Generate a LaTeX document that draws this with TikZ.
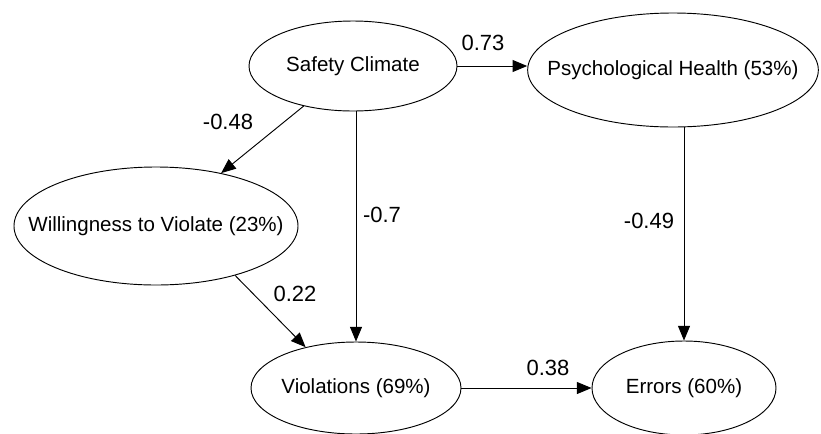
\documentclass[tikz,border=0pt]{standalone}
\usepackage{fontspec}
\setmainfont{Liberation Sans}
\usetikzlibrary{shapes.geometric,arrows.meta}
\begin{document}
\begin{tikzpicture}[x=0.75pt,y=-0.75pt,
    var/.style={ellipse,draw,line width=0.7pt,inner sep=0pt},
    path/.style={line width=0.7pt,-{Triangle[length=11pt,width=9pt]}},
    coef/.style={font=\fontsize{16.5}{18}\selectfont}]
    \useasboundingbox (0,0) rectangle (821,433);
    \begin{scope}[every label/.style={font=\fontsize{15.4}{17}\selectfont}]
        \node[var,minimum width=156pt,minimum height=67.5pt,label=center:{Safety Climate}] (sc) at (353,66) {};
        \node[var,minimum width=218pt,minimum height=85.5pt,label=center:{Psychological Health (53\%)}] (ph) at (673,70) {};
        \node[var,minimum width=213pt,minimum height=88.5pt,label=center:{Willingness to Violate (23\%)}] (wv) at (156,226) {};
        \node[var,minimum width=157.5pt,minimum height=69pt,label=center:{Violations (69\%)}] (vi) at (356,388) {};
        \node[var,minimum width=138pt,minimum height=70.5pt,label=center:{Errors (60\%)}] (er) at (684,388) {};
    \end{scope}
    % paths
    \draw[path] (sc.east) -- (ph.west |- sc.east);
    \draw[path] (sc) -- (wv);
    \draw[path] (vi.north |- sc.south) -- (vi.north);
    \draw[path] (wv.-32) -- (vi.141);
    \draw[path] (er.north |- ph.south) -- (er.north);
    \draw[path] (vi.east) -- (er.west);
    % coefficients
    \node[coef] (c1) at (483,43) {0.73};
    \node[coef] (c2) at (228,122) {-0.48};
    \node[coef] (c3) at (382,215) {-0.7};
    \node[coef] (c4) at (295,294) {0.22};
    \node[coef] (c5) at (649,221) {-0.49};
    \node[coef] (c6) at (548,368) {0.38};
\end{tikzpicture}
\end{document}
